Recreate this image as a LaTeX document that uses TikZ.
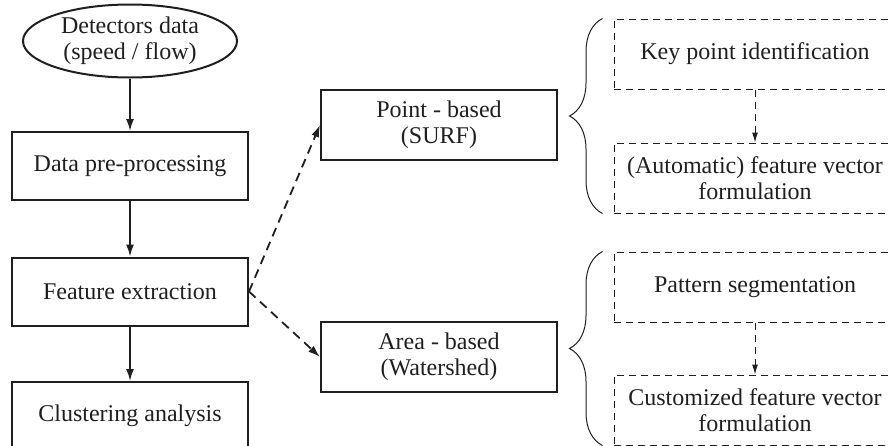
\documentclass[tikz,border=0pt]{standalone}
\usepackage{fontspec}
\setmainfont{Liberation Serif}
\usetikzlibrary{shapes.geometric,arrows.meta,decorations.pathreplacing}
\tikzset{
  stagebox/.style={draw,line width=2pt,minimum width=236pt,minimum height=68pt,align=center,inner sep=0pt},
  substep/.style={draw,line width=1pt,dash pattern=on 7pt off 5pt,minimum width=282pt,minimum height=70pt,align=center,inner sep=0pt},
  flow/.style={line width=1.8pt,-{Latex[length=12pt,width=8pt]}},
  branch/.style={flow,dash pattern=on 9pt off 6pt},
  subflow/.style={line width=1pt,dash pattern=on 7pt off 5pt,-{Latex[length=10pt,width=6pt]}},
  grp/.style={decorate,decoration={brace,amplitude=33pt},line width=1pt}
}
\begin{document}
\begin{tikzpicture}[x=1pt,y=-1pt,font=\fontsize{24}{26}\selectfont,color=black!88]
\useasboundingbox (0,0) rectangle (889,445);
\clip (0,0) rectangle (889,445);
\node[ellipse,draw,line width=2pt,minimum width=214pt,minimum height=73pt,inner sep=0pt,align=center] (det) at (130,41) {Detectors data\\(speed / flow)};
\node[stagebox] (pre) at (130,166) {Data pre-processing};
\node[stagebox] (fe) at (130,291.5) {Feature extraction};
\node[stagebox] (clu) at (130,416) {Clustering analysis};
\node[stagebox,minimum height=70pt] (pt) at (439,125) {Point - based\\(SURF)};
\node[stagebox,minimum height=70pt] (ar) at (439,357) {Area - based\\(Watershed)};
\node[substep] (key) at (755,54) {Key point identification};
\node[substep] (auto) at (755,178) {(Automatic) feature vector\\formulation};
\node[substep] (pat) at (755,287) {Pattern segmentation};
\node[substep] (cust) at (755,410) {Customized feature vector\\formulation};
\draw[flow] (det) -- (pre);
\draw[flow] (pre) -- (fe);
\draw[flow] (fe) -- (clu);
\draw[branch] (fe.east) -- (pt.west);
\draw[branch] (fe.east) -- (ar.west);
\draw[subflow] (key) -- (auto);
\draw[subflow] (pat) -- (cust);
\draw[grp] ([xshift=-11pt]auto.south west) -- ([xshift=-11pt]key.north west);
\draw[grp] ([xshift=-11pt]cust.south west) -- ([xshift=-11pt]pat.north west);
\end{tikzpicture}
\end{document}
